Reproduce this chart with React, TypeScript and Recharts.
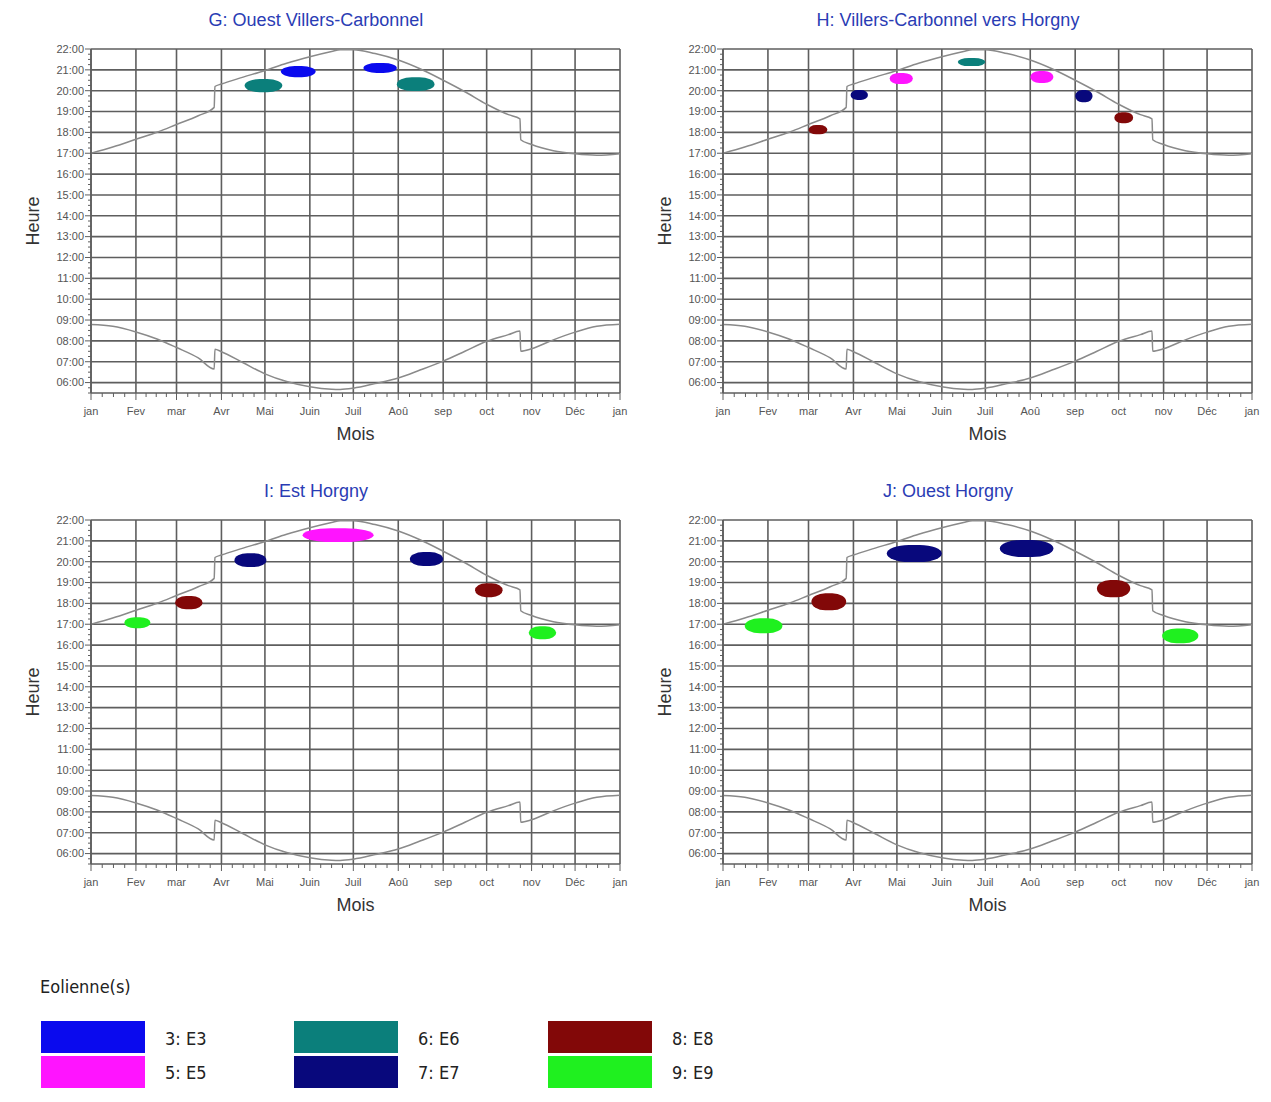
import { LineChart, Line, XAxis, YAxis, CartesianGrid, ReferenceArea } from 'recharts';

// months (day of year where each starts)
const monthLabels = ['jan', 'Fev', 'mar', 'Avr', 'Mai', 'Juin', 'Juil', 'Aoû', 'sep', 'oct', 'nov', 'Déc', 'jan'];
const monthStarts = [0, 31, 59, 90, 120, 151, 181, 212, 243, 273, 304, 334, 365];
const hourLines = [6, 7, 8, 9, 10, 11, 12, 13, 14, 15, 16, 17, 18, 19, 20, 21, 22];

// sunrise / sunset (decimal hours)
const sunDays = [0, 15, 31, 46, 59, 74, 85, 85.5, 90, 105, 120, 135, 151, 166, 172, 181, 196, 212, 227, 243, 258, 273, 288, 296, 296.5, 304, 319, 334, 349, 365];
const sunriseHours = [8.78, 8.7, 8.43, 8.08, 7.68, 7.18, 6.65, 7.6, 7.48, 6.95, 6.42, 6.05, 5.8, 5.68, 5.67, 5.73, 5.95, 6.22, 6.6, 7.03, 7.5, 7.98, 8.3, 8.47, 7.5, 7.62, 8.05, 8.42, 8.7, 8.8];
const sunsetHours = [17.0, 17.3, 17.67, 18.02, 18.38, 18.8, 19.2, 20.2, 20.32, 20.65, 20.97, 21.32, 21.63, 21.88, 21.97, 21.97, 21.78, 21.47, 21.05, 20.5, 19.95, 19.35, 18.85, 18.65, 17.65, 17.42, 17.12, 16.97, 16.9, 16.98];

const panelTitles = ['G: Ouest Villers-Carbonnel', 'H: Villers-Carbonnel vers Horgny', 'I: Est Horgny', 'J: Ouest Horgny'];

// shadow windows: turbine, day range, hour range
const blobsG = [
  { id: 6, d1: 106, d2: 132, h1: 19.93, h2: 20.56 },
  { id: 3, d1: 131, d2: 155, h1: 20.65, h2: 21.18 },
  { id: 3, d1: 188, d2: 211, h1: 20.85, h2: 21.33 },
  { id: 6, d1: 211, d2: 237, h1: 19.98, h2: 20.65 },
];
const blobsH = [
  { id: 8, d1: 59, d2: 72, h1: 17.91, h2: 18.35 },
  { id: 7, d1: 88, d2: 100, h1: 19.55, h2: 20.03 },
  { id: 5, d1: 115, d2: 131, h1: 20.32, h2: 20.85 },
  { id: 6, d1: 162, d2: 181, h1: 21.18, h2: 21.57 },
  { id: 5, d1: 212, d2: 228, h1: 20.37, h2: 20.94 },
  { id: 7, d1: 243, d2: 255, h1: 19.45, h2: 20.03 },
  { id: 8, d1: 270, d2: 283, h1: 18.44, h2: 18.97 },
];
const blobsI = [
  { id: 9, d1: 23, d2: 41, h1: 16.81, h2: 17.34 },
  { id: 8, d1: 58, d2: 77, h1: 17.72, h2: 18.35 },
  { id: 7, d1: 99, d2: 121, h1: 19.74, h2: 20.41 },
  { id: 5, d1: 146, d2: 195, h1: 20.94, h2: 21.6 },
  { id: 7, d1: 220, d2: 243, h1: 19.79, h2: 20.46 },
  { id: 8, d1: 265, d2: 284, h1: 18.3, h2: 18.97 },
  { id: 9, d1: 302, d2: 321, h1: 16.28, h2: 16.9 },
];
const blobsJ = [
  { id: 9, d1: 15, d2: 41, h1: 16.57, h2: 17.29 },
  { id: 8, d1: 61, d2: 85, h1: 17.67, h2: 18.49 },
  { id: 7, d1: 113, d2: 151, h1: 19.98, h2: 20.8 },
  { id: 7, d1: 191, d2: 228, h1: 20.22, h2: 21.04 },
  { id: 8, d1: 258, d2: 281, h1: 18.3, h2: 19.12 },
  { id: 9, d1: 303, d2: 328, h1: 16.09, h2: 16.8 },
];

const legendIds = [3, 5, 6, 7, 8, 9];
const legendLabels = ['3: E3', '5: E5', '6: E6', '7: E7', '8: E8', '9: E9'];

const turbineColors: Record<number, string> = {
  3: '#0a0aee',
  5: '#ff14ff',
  6: '#0b7f7b',
  7: '#08087c',
  8: '#820808',
  9: '#1ff01f',
};

const sunData = sunDays.map((day, i) => ({ day, sunrise: sunriseHours[i], sunset: sunsetHours[i] }));

const xTicks: number[] = [];
for (let m = 0; m < 12; m++) {
  const len = monthStarts[m + 1] - monthStarts[m];
  for (let k = 0; k < 4; k++) xTicks.push(monthStarts[m] + (len * k) / 4);
}
xTicks.push(365);

const yTicks: number[] = [];
for (let v = 5.5; v <= 22.001; v += 0.25) yTicks.push(Math.round(v * 100) / 100);

const gridColor = '#5e5e5e';
const tickColor = '#555';

const XTick = (props: any) => {
  const { x, y, payload } = props;
  const i = monthStarts.indexOf(payload.value);
  const major = i >= 0;
  return (
    <g>
      <line x1={x} x2={x} y1={y} y2={y + (major ? 7 : 4)} stroke={gridColor} strokeWidth={1} />
      {major && (
        <text x={x} y={y + 22} textAnchor="middle" fontSize={11} fill={tickColor}>
          {monthLabels[i]}
        </text>
      )}
    </g>
  );
};

const YTick = (props: any) => {
  const { x, y, payload } = props;
  const v = payload.value;
  const major = Number.isInteger(v) && v >= 6;
  return (
    <g>
      <line x1={x - (major ? 6 : 3)} x2={x} y1={y} y2={y} stroke={gridColor} strokeWidth={1} />
      {major && (
        <text x={x - 7} y={y} dy="0.35em" textAnchor="end" fontSize={11} fill={tickColor}>
          {String(v).padStart(2, '0')}:00
        </text>
      )}
    </g>
  );
};

function Panel({ title, blobs, left, top }: { title: string; blobs: typeof blobsG; left: number; top: number }) {
  return (
    <div style={{ position: 'absolute', left, top, width: 632, height: 450 }}>
      <LineChart width={632} height={450} data={sunData} margin={{ top: 49, right: 12, bottom: 0, left: 0 }}>
        <CartesianGrid
          horizontalValues={hourLines}
          verticalValues={monthStarts}
          stroke={gridColor}
          strokeWidth={1.6}
        />
        <XAxis
          type="number"
          dataKey="day"
          domain={[0, 365]}
          allowDataOverflow
          ticks={xTicks}
          interval={0}
          tick={XTick}
          tickLine={false}
          tickSize={0}
          tickMargin={0}
          height={57}
          axisLine={{ stroke: gridColor, strokeWidth: 1.5 }}
          label={{ value: 'Mois', position: 'insideBottom', offset: 10, fontSize: 18, fill: '#333' }}
        />
        <YAxis
          type="number"
          domain={[5.5, 22]}
          allowDataOverflow
          ticks={yTicks}
          interval={0}
          tick={YTick}
          tickLine={false}
          tickSize={0}
          tickMargin={0}
          width={91}
          axisLine={{ stroke: gridColor, strokeWidth: 1.5 }}
          label={{ value: 'Heure', angle: -90, position: 'insideLeft', offset: 33, fontSize: 18, fill: '#333', style: { textAnchor: 'middle' } }}
        />
        <Line type="monotoneX" dataKey="sunrise" stroke="#8a8a8a" strokeWidth={1.5} dot={false} isAnimationActive={false} />
        <Line type="monotoneX" dataKey="sunset" stroke="#8a8a8a" strokeWidth={1.5} dot={false} isAnimationActive={false} />
        {blobs.map((b, i) => (
          <ReferenceArea
            key={'b' + i}
            x1={b.d1}
            x2={b.d2}
            y1={b.h1}
            y2={b.h2}
            shape={(p: any) => {
              const w = Math.abs(p.width);
              const h = Math.abs(p.height);
              return (
                <rect
                  x={Math.min(p.x, p.x + p.width)}
                  y={Math.min(p.y, p.y + p.height)}
                  width={w}
                  height={h}
                  rx={w * 0.4}
                  ry={h * 0.5}
                  fill={turbineColors[b.id]}
                />
              );
            }}
          />
        ))}
      </LineChart>
      <div
        style={{
          position: 'absolute',
          left: 0,
          top: 10,
          width: 632,
          textAlign: 'center',
          fontSize: 18,
          lineHeight: '20px',
          color: '#2a3cb4',
        }}
      >
        {title}
      </div>
    </div>
  );
}

export default function App() {
  const cols = [
    { sw: 41, tx: 165 },
    { sw: 294, tx: 418 },
    { sw: 548, tx: 672 },
  ];
  return (
    <div
      style={{
        position: 'absolute',
        left: 0,
        top: 0,
        width: 1271,
        height: 1102,
        background: '#fff',
        fontFamily: '"Liberation Sans", Arial, sans-serif',
      }}
    >
      <Panel title={panelTitles[0]} blobs={blobsG} left={0} top={0} />
      <Panel title={panelTitles[1]} blobs={blobsH} left={632} top={0} />
      <Panel title={panelTitles[2]} blobs={blobsI} left={0} top={471} />
      <Panel title={panelTitles[3]} blobs={blobsJ} left={632} top={471} />

      <div
        style={{
          position: 'absolute',
          left: 40,
          top: 976,
          fontSize: 18,
          fontFamily: '"DejaVu Sans Condensed", "DejaVu Sans", sans-serif',
          color: '#222',
        }}
      >
        Eolienne(s)
      </div>
      {legendIds.map((id, i) => {
        const col = cols[Math.floor(i / 2)];
        const row = i % 2;
        return (
          <div key={id}>
            <div
              style={{
                position: 'absolute',
                left: col.sw,
                top: 1021 + row * 35,
                width: 104,
                height: 32,
                background: turbineColors[id],
              }}
            />
            <div
              style={{
                position: 'absolute',
                left: col.tx,
                top: 1027 + row * 34,
                fontSize: 18,
                lineHeight: '24px',
                fontFamily: '"DejaVu Sans Condensed", "DejaVu Sans", sans-serif',
                color: '#222',
              }}
            >
              {legendLabels[i]}
            </div>
          </div>
        );
      })}
    </div>
  );
}
